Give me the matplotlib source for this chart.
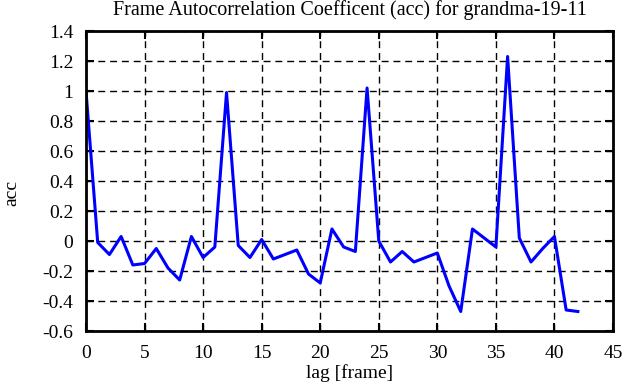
import matplotlib
matplotlib.use("Agg")
import matplotlib.pyplot as plt
from matplotlib import rcParams

rcParams['font.family'] = 'Liberation Serif'
rcParams['axes.linewidth'] = 2
rcParams['xtick.direction'] = 'in'
rcParams['ytick.direction'] = 'in'

# lag in frames and autocorrelation coefficient
lag = list(range(43))
acc = [1.0, -0.01, -0.09, 0.03, -0.16, -0.15, -0.05, -0.18, -0.26, 0.03,
       -0.11, -0.04, 0.99, -0.03, -0.11, 0.01, -0.12, -0.09, -0.06, -0.22,
       -0.28, 0.08, -0.04, -0.07, 1.02, 0.0, -0.14, -0.07, -0.14, -0.11,
       -0.08, -0.3, -0.47, 0.08, 0.02, -0.04, 1.23, 0.02, -0.14, -0.05,
       0.03, -0.46, -0.47]

xticks = list(range(0, 46, 5))
yticks = [-0.6, -0.4, -0.2, 0, 0.2, 0.4, 0.6, 0.8, 1, 1.2, 1.4]
yticklabels = ['-0.6', '-0.4', '-0.2', '0', '0.2', '0.4', '0.6', '0.8', '1', '1.2', '1.4']

fig = plt.figure(figsize=(6.41, 3.87), dpi=100)
ax = fig.add_axes([86 / 641, 1 - 331 / 387, 527 / 641, 300 / 387])

ax.plot(lag, acc, color='#0000ff', linewidth=2.2)

ax.set_xlim(0, 45)
ax.set_ylim(-0.6, 1.4)
ax.set_xticks(xticks)
ax.set_yticks(yticks)
ax.set_yticklabels(yticklabels)
ax.tick_params(top=True, right=True, length=6, width=1.5, colors='black',
               labelsize=14)
ax.tick_params(axis='x', pad=10)
ax.tick_params(axis='y', pad=9)
ax.grid(True, color='black', linestyle=(0, (5, 3.5)), linewidth=1)

ax.set_xlabel('lag [frame]', fontsize=14)
ax.xaxis.set_label_coords(0.5, -0.11)
ax.set_ylabel('acc', fontsize=14)
ax.yaxis.set_label_coords(-0.125, 0.46)
ax.set_title('Frame Autocorrelation Coefficent (acc) for grandma-19-11',
             fontsize=14.5, pad=11.5)

fig.savefig('out.png', dpi=100)
